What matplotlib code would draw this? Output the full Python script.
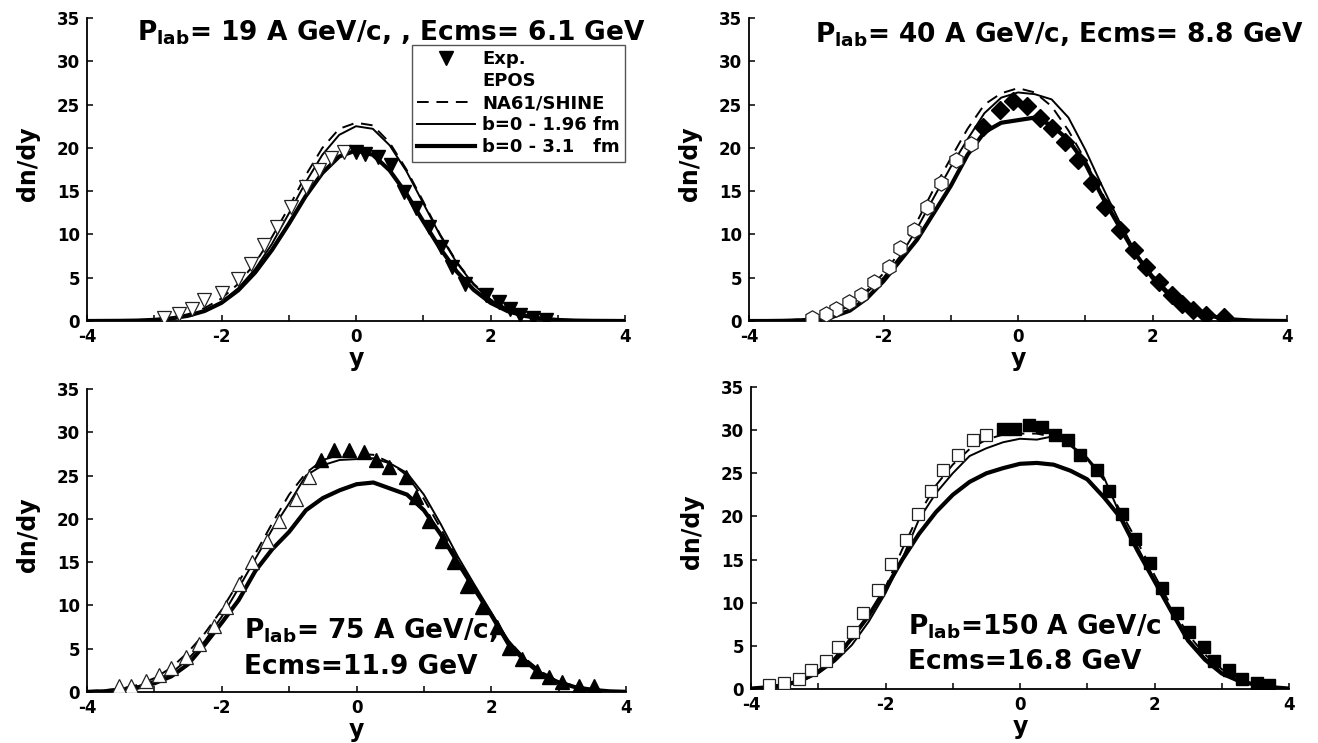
import matplotlib
matplotlib.use('Agg')
import matplotlib.pyplot as plt
from matplotlib.lines import Line2D

plt.rcParams['font.family'] = ['DejaVu Sans']
plt.rcParams['font.weight'] = 'bold'
plt.rcParams['mathtext.fontset'] = 'dejavusans'
plt.rcParams['mathtext.default'] = 'bf'
plt.rcParams['axes.unicode_minus'] = False

# ---------------- data ----------------
Y_GRID = [-4.0, -3.75, -3.5, -3.25, -3.0, -2.75, -2.5, -2.25, -2.0, -1.75, -1.5, -1.25, -1.0,
          -0.75, -0.5, -0.25, 0.0, 0.25, 0.5, 0.75, 1.0, 1.25, 1.5, 1.75, 2.0, 2.25, 2.5,
          2.75, 3.0, 3.25, 3.5, 3.75, 4.0]

# Panel 1: Plab = 19 A GeV/c
P1_DASH = [0, 0.01, 0.03, 0.07, 0.17, 0.38, 0.78, 1.5, 2.6, 4.3, 6.7, 9.7, 13.1, 16.8, 20.0, 22.2,
           22.9, 22.6, 20.6, 17.5, 13.8, 10.0, 6.8, 4.3, 2.5, 1.4, 0.7, 0.33, 0.15, 0.06, 0.03, 0.01, 0]
P1_THIN = [0, 0.01, 0.02, 0.05, 0.12, 0.28, 0.6, 1.2, 2.2, 3.8, 6.0, 8.9, 12.4, 16.0, 19.2, 21.5,
           22.5, 22.2, 20.3, 17.3, 13.6, 9.9, 6.7, 4.2, 2.45, 1.35, 0.68, 0.32, 0.14, 0.06, 0.02, 0.01, 0]
P1_THICK = [0, 0.01, 0.02, 0.05, 0.13, 0.29, 0.6, 1.16, 2.1, 3.55, 5.6, 8.2, 11.2, 14.4, 17.1, 19.0,
            19.7, 19.2, 17.4, 14.7, 11.5, 8.4, 5.7, 3.6, 2.1, 1.15, 0.6, 0.28, 0.12, 0.05, 0.02, 0.01, 0]
P1_EXP_Y = [0.0, 0.13, 0.33, 0.52, 0.71, 0.89, 1.08, 1.26, 1.43, 1.62, 1.93, 2.12, 2.29, 2.44, 2.63, 2.82]
P1_EXP_V = [19.5, 19.3, 19.0, 18.0, 14.9, 13.0, 10.9, 8.6, 6.25, 4.3, 3.0, 2.2, 1.4, 0.65, 0.3, 0.15]
P1_REF_Y = [-0.18, -0.37, -0.55, -0.74, -0.96, -1.18, -1.37, -1.56, -1.75, -2.0, -2.26, -2.44, -2.63, -2.85]
P1_REF_V = [19.5, 18.8, 17.4, 15.5, 13.2, 10.9, 8.8, 6.6, 4.9, 3.2, 2.4, 1.4, 0.85, 0.4]

# Panel 2: Plab = 40 A GeV/c
P2_DASH = [0, 0.02, 0.06, 0.18, 0.45, 1.0, 2.0, 3.5, 5.5, 8.0, 11.5, 15.3, 18.8, 22.2, 25.0, 26.3,
           26.9, 26.4, 24.8, 22.0, 18.6, 14.8, 11.0, 7.9, 5.3, 3.4, 2.0, 1.0, 0.45, 0.18, 0.06, 0.02, 0]
P2_THIN = [0, 0.01, 0.03, 0.1, 0.3, 0.8, 1.8, 3.3, 5.0, 7.5, 10.7, 14.3, 17.8, 21.0, 24.0, 25.8,
           26.4, 26.2, 25.6, 23.5, 19.8, 15.6, 11.6, 7.9, 5.3, 3.3, 1.9, 1.0, 0.45, 0.18, 0.06, 0.02, 0]
P2_THICK = [0, 0.0, 0.02, 0.07, 0.2, 0.5, 1.2, 2.6, 4.6, 7.0, 9.4, 12.5, 15.6, 19.2, 21.8, 22.9,
            23.2, 23.5, 22.6, 20.9, 18.2, 14.4, 11.0, 7.7, 5.0, 3.0, 1.7, 0.85, 0.35, 0.15, 0.05, 0.02, 0]
P2_EXP_Y = [-0.52, -0.27, -0.08, 0.14, 0.32, 0.51, 0.7, 0.89, 1.1, 1.29, 1.51, 1.73, 1.91, 2.1,
            2.29, 2.44, 2.6, 2.79, 3.07]
P2_EXP_V = [22.4, 24.4, 25.4, 24.8, 23.5, 22.3, 20.7, 18.6, 15.9, 13.2, 10.5, 8.2, 6.25, 4.5,
            3.0, 2.0, 1.25, 0.65, 0.5]
P2_REF_Y = [-0.7, -0.92, -1.14, -1.36, -1.55, -1.76, -1.92, -2.14, -2.33, -2.51, -2.7, -2.86, -3.07]
P2_REF_V = [20.5, 18.6, 15.9, 13.2, 10.5, 8.4, 6.25, 4.5, 3.0, 2.2, 1.4, 0.85, 0.4]

# Panel 3: Plab = 75 A GeV/c
P3_DASH = [0.1, 0.2, 0.4, 0.8, 1.6, 2.8, 4.6, 6.8, 9.5, 12.7, 16.0, 19.5, 22.8, 25.3, 26.8, 27.4,
           27.5, 27.4, 26.5, 25.0, 22.3, 18.9, 15.3, 12.0, 8.9, 6.0, 3.9, 2.3, 1.3, 0.65, 0.3, 0.12, 0.05]
P3_THIN = [0.05, 0.12, 0.3, 0.65, 1.3, 2.2, 3.8, 5.9, 8.7, 12.0, 15.4, 18.8, 21.8, 25.0, 26.2, 26.8,
           26.9, 27.0, 26.4, 25.3, 22.8, 19.4, 15.7, 12.4, 9.2, 6.0, 3.8, 2.2, 1.2, 0.6, 0.25, 0.1, 0.03]
P3_THICK = [0.02, 0.08, 0.25, 0.5, 1.0, 1.8, 3.2, 5.5, 8.0, 10.6, 14.0, 16.5, 18.5, 21.0, 22.4, 23.3,
            24.0, 24.2, 23.5, 22.8, 21.0, 18.2, 15.0, 11.9, 8.9, 5.6, 3.6, 2.0, 1.1, 0.55, 0.25, 0.08, 0.02]
P3_EXP_Y = [-0.52, -0.33, -0.11, 0.11, 0.29, 0.48, 0.73, 0.89, 1.08, 1.27, 1.45, 1.64, 1.86, 2.08,
            2.27, 2.46, 2.68, 2.86, 3.05, 3.3, 3.52]
P3_EXP_V = [26.8, 27.9, 28.0, 27.7, 26.8, 26.0, 24.8, 22.5, 19.8, 17.5, 15.0, 12.3, 9.8, 7.5,
            5.1, 3.8, 2.4, 1.7, 1.1, 0.7, 0.7]
P3_REF_Y = [-0.71, -0.9, -1.15, -1.33, -1.55, -1.74, -1.93, -2.12, -2.34, -2.53, -2.75, -2.93,
            -3.12, -3.34, -3.53]
P3_REF_V = [24.8, 22.3, 19.8, 17.5, 15.0, 12.5, 9.8, 7.6, 5.5, 4.0, 2.8, 2.0, 1.3, 0.7, 0.7]

# Panel 4: Plab = 150 A GeV/c
P4_DASH = [0.1, 0.25, 0.55, 1.1, 2.0, 3.4, 5.6, 8.5, 11.8, 16.2, 20.3, 23.6, 26.0, 27.8, 28.9, 29.5,
           29.6, 29.6, 29.2, 28.2, 26.6, 24.2, 20.5, 17.0, 13.2, 9.6, 6.3, 4.0, 2.3, 1.2, 0.6, 0.25, 0.1]
P4_THIN = [0.05, 0.2, 0.4, 0.9, 1.8, 3.2, 5.1, 7.8, 11.1, 15.1, 19.7, 22.7, 25.0, 27.0, 27.9, 28.6,
           29.0, 28.9, 29.3, 28.3, 26.8, 24.5, 20.0, 16.4, 12.6, 9.0, 5.8, 3.6, 1.9, 1.0, 0.45, 0.2, 0.05]
P4_THICK = [0.05, 0.2, 0.45, 1.0, 2.0, 3.5, 5.9, 8.5, 11.6, 15.0, 18.0, 20.5, 22.5, 24.0, 25.0, 25.6,
            26.1, 26.2, 26.0, 25.3, 24.3, 22.2, 19.8, 16.0, 12.5, 9.0, 5.6, 3.4, 1.8, 0.95, 0.5, 0.2, 0.05]
P4_EXP_Y = [-0.26, -0.08, 0.13, 0.33, 0.52, 0.71, 0.89, 1.14, 1.33, 1.52, 1.71, 1.93, 2.11, 2.33,
            2.52, 2.74, 2.89, 3.11, 3.3, 3.52, 3.71]
P4_EXP_V = [30.1, 30.1, 30.6, 30.4, 29.4, 28.8, 27.1, 25.4, 23.0, 20.3, 17.4, 14.6, 11.7, 8.8,
            6.6, 4.9, 3.2, 2.2, 1.2, 0.65, 0.45]
P4_REF_Y = [-0.51, -0.7, -0.92, -1.14, -1.33, -1.51, -1.7, -1.92, -2.11, -2.33, -2.49, -2.7,
            -2.89, -3.11, -3.29, -3.51, -3.73]
P4_REF_V = [29.4, 28.8, 27.1, 25.4, 23.0, 20.3, 17.3, 14.5, 11.5, 8.8, 6.6, 4.9, 3.2, 2.2, 1.2, 0.65, 0.45]

X_TICKS = [-4, -3, -2, -1, 0, 1, 2, 3, 4]
X_TICK_LABELS = ['-4', '', '-2', '', '0', '', '2', '', '4']
Y_TICKS = [0, 5, 10, 15, 20, 25, 30, 35]
Y_TICK_LABELS = ['0', '5', '10', '15', '20', '25', '30', '35']

LEGEND_LABELS = ['Exp.', 'EPOS', 'NA61/SHINE', 'b=0 - 1.96 fm', 'b=0 - 3.1   fm']

# ---------------- figure ----------------
W, H = 1318, 743
fig = plt.figure(figsize=(W / 100, H / 100), dpi=100)


def axes_px(l, r, t, b):
    return fig.add_axes([l / W, 1 - b / H, (r - l) / W, (b - t) / H])


panels = [
    dict(box=(87, 625, 18, 321), dash=P1_DASH, thin=P1_THIN, thick=P1_THICK,
         ey=P1_EXP_Y, ev=P1_EXP_V, ry=P1_REF_Y, rv=P1_REF_V, m='v', ms=10),
    dict(box=(749, 1287, 18, 321), dash=P2_DASH, thin=P2_THIN, thick=P2_THICK,
         ey=P2_EXP_Y, ev=P2_EXP_V, ry=P2_REF_Y, rv=P2_REF_V, m='D', ms=9, rm='h', rms=11),
    dict(box=(87, 626, 389, 692), dash=P3_DASH, thin=P3_THIN, thick=P3_THICK,
         ey=P3_EXP_Y, ev=P3_EXP_V, ry=P3_REF_Y, rv=P3_REF_V, m='^', ms=10),
    dict(box=(751, 1289, 387, 689), dash=P4_DASH, thin=P4_THIN, thick=P4_THICK,
         ey=P4_EXP_Y, ev=P4_EXP_V, ry=P4_REF_Y, rv=P4_REF_V, m='s', ms=8.5),
]

axes = []
for p in panels:
    ax = axes_px(*p['box'])
    axes.append(ax)
    ax.plot(Y_GRID, p['dash'], color='black', lw=1.4, ls=(0, (6, 4)), zorder=2)
    ax.plot(Y_GRID, p['thin'], color='black', lw=1.4, zorder=2)
    ax.plot(Y_GRID, p['thick'], color='black', lw=3.0, zorder=2)
    rm = p.get('rm', p['m'])
    rms = p.get('rms', p['ms'])
    ax.plot(p['ry'], p['rv'], ls='none', marker=rm, ms=rms, mfc='white', mec='#222222',
            mew=0.9, zorder=3)
    ax.plot(p['ey'], p['ev'], ls='none', marker=p['m'], ms=p['ms'], mfc='black', mec='black',
            zorder=3)
    ax.set_xlim(-4, 4)
    ax.set_ylim(0, 35)
    ax.set_xticks(X_TICKS)
    ax.set_xticklabels(X_TICK_LABELS)
    ax.set_yticks(Y_TICKS)
    ax.set_yticklabels(Y_TICK_LABELS)
    ax.tick_params(direction='in', length=4.5, width=1.1, labelsize=12, pad=5)
    for s in ('top', 'right'):
        ax.spines[s].set_visible(False)
    for s in ('left', 'bottom'):
        ax.spines[s].set_linewidth(1.3)
    ax.set_facecolor('none')
    ax.set_ylabel('dn/dy', fontsize=17, fontweight='bold')
    ax.set_xlabel('y', fontsize=17, fontweight='bold', va='center')
    ax.yaxis.set_label_coords(-47 / 538, 0.52)
    ax.xaxis.set_label_coords(0.5, -38 / 303)

# Panel titles / annotations
FS_T = 19
axes[0].text(0.093, 0.927, r'$P_{lab}$= 19 A GeV/c, , Ecms= 6.1 GeV', transform=axes[0].transAxes,
             fontsize=FS_T, fontweight='bold', ha='left', va='baseline')
axes[1].text(0.123, 0.92, r'$P_{lab}$= 40 A GeV/c, Ecms= 8.8 GeV', transform=axes[1].transAxes,
             fontsize=FS_T, fontweight='bold', ha='left', va='baseline')
axes[2].text(0.292, 0.178, r'$P_{lab}$= 75 A GeV/c,', transform=axes[2].transAxes,
             fontsize=FS_T, fontweight='bold', ha='left', va='baseline')
axes[2].text(0.292, 0.059, 'Ecms=11.9 GeV', transform=axes[2].transAxes,
             fontsize=FS_T, fontweight='bold', ha='left', va='baseline')
axes[3].text(0.292, 0.182, r'$P_{lab}$=150 A GeV/c', transform=axes[3].transAxes,
             fontsize=FS_T, fontweight='bold', ha='left', va='baseline')
axes[3].text(0.292, 0.066, 'Ecms=16.8 GeV', transform=axes[3].transAxes,
             fontsize=FS_T, fontweight='bold', ha='left', va='baseline')

# Legend (panel 1)
handles = [
    Line2D([], [], ls='none', marker='v', ms=10, color='black'),
    Line2D([], [], ls='none'),
    Line2D([], [], color='black', lw=1.4, ls=(0, (6, 4))),
    Line2D([], [], color='black', lw=1.4),
    Line2D([], [], color='black', lw=3.0),
]
leg = axes[0].legend(handles, LEGEND_LABELS, loc='upper right', bbox_to_anchor=(1.0, 0.911),
                     frameon=True, fancybox=False, edgecolor='#555555', framealpha=1,
                     prop=dict(size=13, weight='bold'), handlelength=3.2, labelspacing=0.22,
                     borderpad=0.3, handletextpad=0.4, borderaxespad=0)
leg.get_frame().set_linewidth(1.0)
leg.set_zorder(10)

fig.savefig('out.png', dpi=100)
